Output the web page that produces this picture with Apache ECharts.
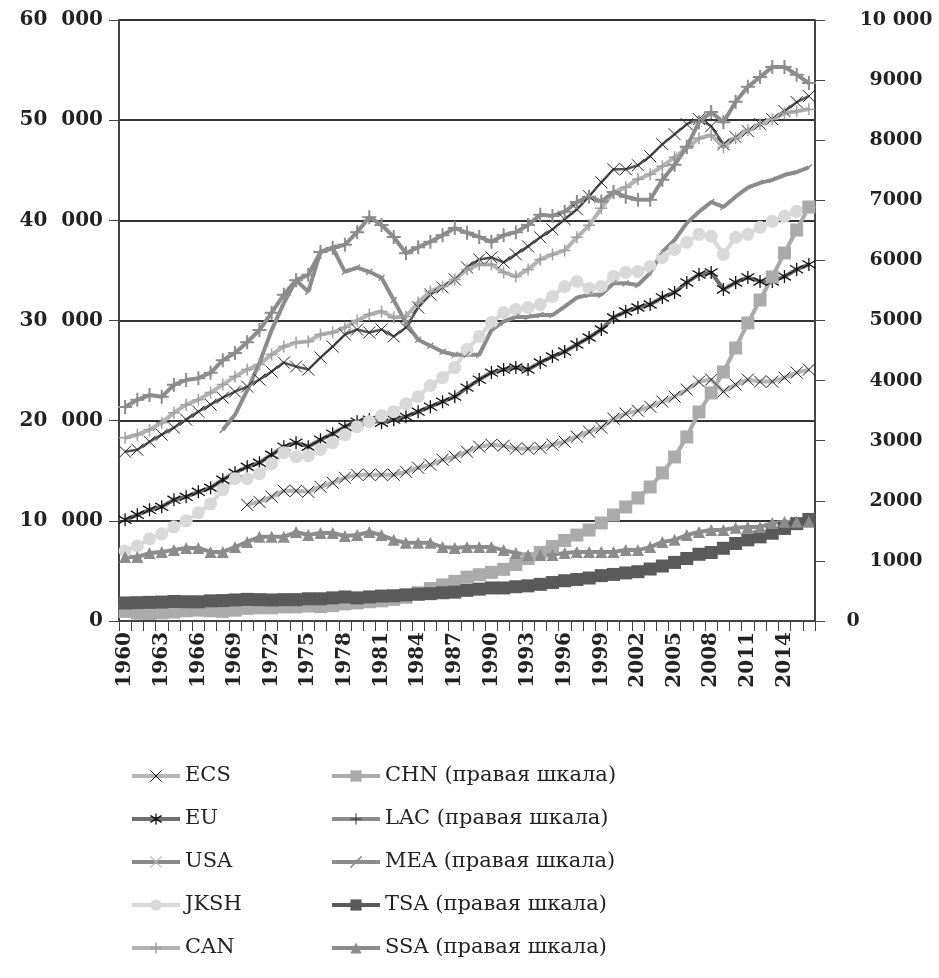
<!DOCTYPE html>
<html>
<head>
<meta charset="utf-8">
<script src="https://cdn.jsdelivr.net/npm/echarts@6/dist/echarts.min.js"></script>
<style>
html,body{margin:0;padding:0;background:#fff;}
#chart{width:939px;height:978px;}
</style>
</head>
<body>
<div id="chart"></div>
<script>
const years = [];
for (let y = 1960; y <= 2016; y++) years.push(String(y));

const leftTicks = [0, 10000, 20000, 30000, 40000, 50000, 60000];
const rightTicks = [0, 1000, 2000, 3000, 4000, 5000, 6000, 7000, 8000, 9000, 10000];

// Left scale
const ECS = [null,null,null,null,null,null,null,null,null,null,
 11600,11900,12400,13000,13000,12900,13400,13800,14300,14600,
 14600,14600,14600,14900,15300,15600,16100,16400,16900,17400,
 17600,17500,17200,17200,17300,17600,17900,18400,18900,19300,
 20200,20700,21000,21400,21900,22400,23100,23900,24100,22900,
 23600,24100,23900,23900,24300,24800,25100];
const EU = [10100,10600,11100,11400,12100,12400,12900,13300,14100,14800,
 15400,15800,16600,17400,17800,17400,18100,18700,19400,19900,
 20100,19800,20100,20400,20900,21400,21900,22400,23300,24100,
 24800,25100,25300,25100,25800,26400,26900,27600,28300,29100,
 30300,30900,31300,31600,32300,32800,33800,34600,34800,33100,
 33800,34300,33900,33900,34400,35100,35600];
const USA = [16900,17100,17900,18600,19300,20100,20900,21600,22300,22900,
 23400,24100,24900,25800,25400,25100,26300,27400,28600,29100,
 28800,29100,28400,29300,31300,32600,33300,34100,35300,36100,
 36300,35800,36600,37400,38300,39100,40100,41100,42400,43800,
 45100,45100,45500,46400,47600,48600,49600,50100,49400,47600,
 48300,48900,49600,50100,50900,51800,52400];
const JKSH = [7000,7500,8200,8700,9400,10000,10800,11700,13100,14200,
 14200,14700,15700,16800,16400,16500,17100,17800,18600,19400,
 19900,20500,20900,21700,22400,23500,24300,25300,27100,28400,
 29800,30800,31100,31300,31600,32400,33400,33900,33200,33400,
 34400,34800,34900,35400,36300,37100,37800,38600,38400,36600,
 38300,38600,39300,39900,40400,40900,41300];
const CAN = [18300,18600,19100,19800,20800,21600,22100,22800,23600,24400,
 25100,25600,26600,27400,27800,27900,28600,28800,29300,30000,
 30600,30900,30300,30400,31800,32900,33400,34100,35100,35600,
 35600,34800,34400,35100,36100,36600,37000,38300,39500,41200,
 42800,43300,44100,44600,45400,46300,47200,48200,48500,47300,
 48200,49000,49600,50100,50700,50900,51100];

// Right scale
const CHN = [160,130,125,135,150,170,180,170,160,180,
 210,220,220,235,235,250,240,255,285,300,
 320,335,360,395,470,540,600,660,730,770,
 810,860,940,1040,1140,1240,1340,1430,1514,1631,
 1764,1897,2047,2230,2463,2729,3062,3478,3794,4143,
 4543,4959,5341,5724,6124,6506,6889];
const LAC = [3560,3680,3760,3730,3930,4010,4040,4130,4340,4460,
 4640,4840,5130,5430,5670,5760,6140,6210,6260,6470,
 6720,6590,6390,6120,6220,6310,6420,6540,6460,6390,
 6310,6420,6470,6590,6760,6740,6810,6970,7060,6980,
 7140,7060,7010,7010,7340,7590,7890,8300,8470,8300,
 8640,8890,9050,9220,9220,9090,8950];
const MEA = [null,null,null,null,null,null,null,null,3180,3430,
 3840,4290,4840,5290,5670,5480,6140,6210,5810,5880,
 5810,5710,5340,4960,4680,4580,4480,4430,4430,4430,
 4840,4980,5060,5060,5090,5090,5230,5380,5430,5430,
 5620,5620,5590,5790,6140,6340,6620,6810,6970,6890,
 7060,7210,7290,7340,7420,7470,7550];
const TSA = [300,305,310,315,325,320,320,335,340,350,
 360,355,350,355,355,370,370,385,400,385,
 400,415,420,435,445,455,470,480,510,530,
 550,550,570,585,610,640,670,690,715,755,
 775,800,820,865,915,975,1040,1110,1140,1210,
 1290,1350,1400,1460,1540,1620,1690];
const SSA = [1065,1065,1130,1150,1180,1215,1215,1150,1150,1230,
 1315,1400,1400,1400,1480,1430,1465,1465,1415,1430,
 1480,1430,1350,1300,1300,1300,1230,1215,1230,1230,
 1230,1180,1130,1100,1100,1100,1130,1150,1150,1150,
 1150,1180,1180,1230,1315,1350,1430,1480,1515,1515,
 1550,1565,1565,1630,1650,1650,1650];

const FONT = 'DejaVu Serif';
const X_PATH = 'path://M0,0L10,10M10,0L0,10';
const AST_PATH = 'path://M5,0L5,10M0,2L10,8M0,8L10,2';
const PLUS_PATH = 'path://M5,0L5,10M0,5L10,5';
const SLASH_PATH = 'path://M0,10L10,0';
const NONE = 'rgba(0,0,0,0)';

const defs = [
  { name: 'ECS', data: ECS, axis: 0, line: '#b5b5b5', w: 4, symbol: X_PATH, size: 12,
    item: { color: NONE, borderColor: '#1a1a1a', borderWidth: 1 } },
  { name: 'EU', data: EU, axis: 0, line: '#6e6e6e', w: 4, symbol: AST_PATH, size: 13,
    item: { color: NONE, borderColor: '#111', borderWidth: 1.3 } },
  { name: 'USA', data: USA, axis: 0, line: '#555555', w: 2.5, symbol: X_PATH, size: 12,
    item: { color: NONE, borderColor: '#222', borderWidth: 1 },
    legendLine: '#8a8a8a', legendItem: { color: NONE, borderColor: '#bbb', borderWidth: 1.2 } },
  { name: 'JKSH', data: JKSH, axis: 0, line: '#d9d9d9', w: 4, symbol: 'circle', size: 13,
    item: { color: '#d9d9d9', borderWidth: 0 } },
  { name: 'CAN', data: CAN, axis: 0, line: '#b3b3b3', w: 4, symbol: PLUS_PATH, size: 12,
    item: { color: NONE, borderColor: '#a0a0a0', borderWidth: 1.5 } },
  { name: 'CHN (правая шкала)', data: CHN, axis: 1, line: '#ababab', w: 4, symbol: 'rect', size: 13,
    item: { color: '#ababab', borderWidth: 0 } },
  { name: 'LAC (правая шкала)', data: LAC, axis: 1, line: '#8c8c8c', w: 4, symbol: PLUS_PATH, size: 14,
    item: { color: NONE, borderColor: '#8c8c8c', borderWidth: 2 },
    legendItem: { color: NONE, borderColor: '#333', borderWidth: 1 } },
  { name: 'MEA (правая шкала)', data: MEA, axis: 1, line: '#8c8c8c', w: 4, symbol: SLASH_PATH, size: 6,
    item: { color: NONE, borderColor: '#8c8c8c', borderWidth: 1.5 } },
  { name: 'TSA (правая шкала)', data: TSA, axis: 1, line: '#5a5a5a', w: 4, symbol: 'rect', size: 13,
    item: { color: '#5a5a5a', borderWidth: 0 } },
  { name: 'SSA (правая шкала)', data: SSA, axis: 1, line: '#8c8c8c', w: 4, symbol: 'triangle', size: 12,
    item: { color: '#8c8c8c', borderWidth: 0 } }
];

const series = defs.map(d => ({
  name: d.name, type: 'line', data: d.data, yAxisIndex: d.axis,
  symbol: d.symbol, symbolSize: d.size, showSymbol: true, showAllSymbol: true,
  connectNulls: false, animation: false,
  lineStyle: { color: d.line, width: d.w },
  itemStyle: d.item,
  emphasis: { disabled: true }
}));

const legendData = defs.map(d => ({
  name: d.name,
  lineStyle: { color: d.legendLine || d.line, width: 4 },
  itemStyle: d.legendItem || d.item
}));

const legendText = { fontFamily: FONT, fontSize: 21, color: '#222', lineHeight: 24 };

function spaced(v, sep) {
  return String(v).replace(/(\d)(?=(\d{3})+$)/g, '$1' + sep);
}

const option = {
  backgroundColor: '#fff',
  animation: false,
  grid: { left: 119, right: 124, top: 20, bottom: 357, containLabel: false },
  legend: [
    { data: legendData.slice(0, 5), orient: 'vertical', left: 130, top: 764, padding: 0,
      itemWidth: 48, itemHeight: 14, itemGap: 19, textStyle: legendText, selectedMode: false },
    { data: legendData.slice(5), orient: 'vertical', left: 330, top: 764, padding: 0,
      itemWidth: 48, itemHeight: 14, itemGap: 19, textStyle: legendText, selectedMode: false }
  ],
  xAxis: {
    type: 'category', data: years, boundaryGap: true,
    axisLine: { lineStyle: { color: '#444', width: 2 } },
    axisTick: { show: true, interval: 0, length: 10, lineStyle: { color: '#444', width: 1 } },
    axisLabel: { interval: 2, rotate: 90, margin: 11, fontFamily: FONT, fontSize: 20, fontWeight: 'bold', color: '#222' },
    splitLine: { show: false }
  },
  yAxis: [
    { type: 'value', min: 0, max: 60000, interval: 10000, position: 'left',
      axisLine: { show: true, lineStyle: { color: '#444', width: 2 } },
      axisTick: { show: true, length: 10, lineStyle: { color: '#444', width: 1 } },
      axisLabel: { margin: 16, fontFamily: FONT, fontSize: 20, fontWeight: 'bold', color: '#222',
        formatter: function (v) { return spaced(v, '\u2007'); } },
      splitLine: { show: true, lineStyle: { color: '#333', width: 2 } } },
    { type: 'value', min: 0, max: 10000, interval: 1000, position: 'right',
      axisLine: { show: true, lineStyle: { color: '#444', width: 2 } },
      axisTick: { show: true, length: 10, lineStyle: { color: '#444', width: 1 } },
      axisLabel: { margin: 81, align: 'center', fontFamily: FONT, fontSize: 19, fontWeight: 'bold', color: '#222',
        formatter: function (v) { return v === 0 ? '{z|0}' : (v >= 10000 ? spaced(v, ' ') : String(v)); },
        rich: { z: { fontFamily: FONT, fontSize: 19, fontWeight: 'bold', color: '#222', padding: [0, 86, 0, 0] } } },
      splitLine: { show: false } }
  ],
  series: series
};

const chart = echarts.init(document.getElementById('chart'), null, { renderer: 'canvas' });
chart.setOption(option);
</script>
</body>
</html>
